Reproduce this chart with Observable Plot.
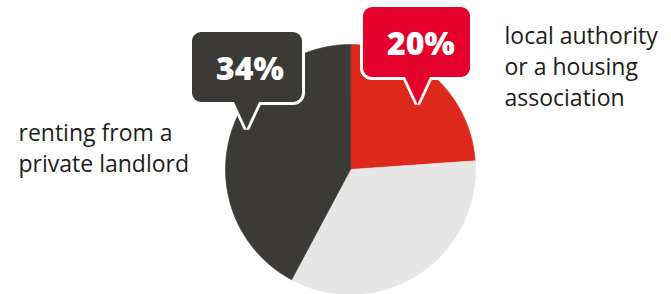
<!DOCTYPE html>
<html>
<head>
<meta charset="utf-8">
<script src="https://cdn.jsdelivr.net/npm/d3@7"></script>
<script src="https://cdn.jsdelivr.net/npm/@observablehq/plot@0.6"></script>
<style>
  html, body { margin: 0; padding: 0; background: #fff; }
  #chart { width: 671px; height: 294px; overflow: hidden; }
  g[aria-label="pct"] text { letter-spacing: 2px; }
  g[aria-label="labels"] text { letter-spacing: 0.9px; }
</style>
</head>
<body>
<div id="chart"></div>
<script>
// ---- data ----
const categories = ["local authority or a housing association", "other", "renting from a private landlord"];
// slice shares as drawn in the picture (clockwise from 12 o'clock)
const sliceShares = [0.239, 0.339, 0.422];
const sliceColors = ["#dd2a1d", "#e6e6e6", "#3c3a36"];
// callout labels
const calloutCategories = ["local authority or a housing association", "renting from a private landlord"];
const calloutValues = ["20%", "34%"];
const calloutColors = ["#e4002b", "#3c3a36"];
// category text labels
const labelLines = ["local authority\nor a housing\nassociation", "renting from a\nprivate landlord"];

// ---- layout (pixels) ----
const W = 671, H = 294, CX = 350, CY = 169, R = 125;
const ux = (px) => (px - CX) / R;
const uy = (py) => (CY - py) / R;
const calloutLayout = [
  {box: [363, 470, 7, 77], base: [404, 430], tip: [417, 103], text: [420.5, 54]},
  {box: [192, 302, 32, 102], base: [233, 259], tip: [246, 128], text: [249.5, 79]}
];
const labelLayout = [
  {x: 504, baseline: 38},
  {x: 18, baseline: 135}
];
const FONT = "'Open Sans', sans-serif";
const LABEL_FS = 23, LABEL_LH = 31 / 23;
const PCT_FS = 32;

// ---- slice polygons from shares ----
const slicePts = [];
let acc = 0;
sliceShares.forEach((s, i) => {
  const a0 = acc * 2 * Math.PI, a1 = (acc + s) * 2 * Math.PI;
  const n = Math.max(2, Math.ceil((a1 - a0) / (Math.PI / 360)));
  slicePts.push({cat: categories[i], x: 0, y: 0});
  for (let k = 0; k <= n; k++) {
    const a = a0 + (a1 - a0) * k / n;
    slicePts.push({cat: categories[i], x: Math.sin(a), y: Math.cos(a)});
  }
  acc += s;
});

// ---- callout geometry ----
const boxes = calloutLayout.map((c, i) => ({
  cat: calloutCategories[i], value: calloutValues[i],
  x1: ux(c.box[0]), x2: ux(c.box[1]), y1: uy(c.box[2]), y2: uy(c.box[3])
}));
const tris = [];
calloutLayout.forEach((c, i) => {
  const yb = c.box[3] - 2;
  tris.push({cat: calloutCategories[i], x: ux(c.base[0]), y: uy(yb)});
  tris.push({cat: calloutCategories[i], x: ux(c.tip[0]), y: uy(c.tip[1])});
  tris.push({cat: calloutCategories[i], x: ux(c.base[1]), y: uy(yb)});
});
const pctText = calloutLayout.map((c, i) => ({
  value: calloutValues[i], cat: calloutCategories[i],
  x: ux(c.text[0]), y: uy(c.text[1] - 0.71 * PCT_FS)
}));
const labels = labelLayout.map((l, i) => ({
  text: labelLines[i], x: ux(l.x), y: uy(l.baseline - 0.71 * LABEL_FS)
}));

const marks = [];
categories.forEach((c, i) => {
  marks.push(Plot.line(slicePts.filter(d => d.cat === c), {
    x: "x", y: "y", curve: "linear-closed",
    fill: sliceColors[i], stroke: sliceColors[i], strokeWidth: 0.6
  }));
});
// white outlines of callouts
marks.push(Plot.rect(boxes, {x1: "x1", x2: "x2", y1: "y1", y2: "y2", rx: 9, fill: "white", stroke: "white", strokeWidth: 6}));
marks.push(Plot.line(tris, {x: "x", y: "y", z: "cat", curve: "linear-closed", fill: "white", stroke: "white", strokeWidth: 6, strokeLinejoin: "miter"}));
// callout fills
calloutCategories.forEach((c, i) => {
  marks.push(Plot.rect(boxes.filter(d => d.cat === c), {x1: "x1", x2: "x2", y1: "y1", y2: "y2", rx: 9, fill: calloutColors[i]}));
  marks.push(Plot.line(tris.filter(d => d.cat === c), {x: "x", y: "y", curve: "linear-closed", fill: calloutColors[i], stroke: calloutColors[i], strokeWidth: 0.5}));
});
marks.push(Plot.text(pctText, {
  x: "x", y: "y", text: "value", fill: "white", fontSize: PCT_FS, fontWeight: 800,
  fontFamily: FONT, textAnchor: "middle", lineAnchor: "top", ariaLabel: "pct"
}));
marks.push(Plot.text(labels, {
  x: "x", y: "y", text: "text", fill: "#1d1d1b", fontSize: LABEL_FS, fontFamily: FONT,
  textAnchor: "start", lineAnchor: "top", lineHeight: LABEL_LH, ariaLabel: "labels"
}));

const chart = Plot.plot({
  width: W, height: H,
  margin: 0,
  x: {domain: [-1, 1], range: [CX - R, CX + R], axis: null},
  y: {domain: [-1, 1], range: [CY + R, CY - R], axis: null},
  style: {background: "white", overflow: "visible"},
  marks
});
document.getElementById("chart").appendChild(chart);
</script>
</body>
</html>
